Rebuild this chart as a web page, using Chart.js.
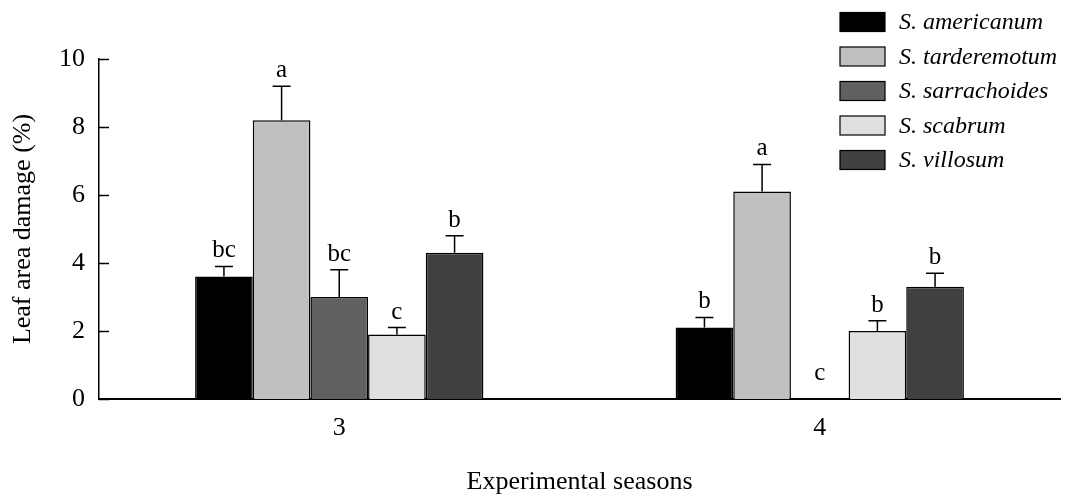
<!DOCTYPE html>
<html lang="en">
<head>
<meta charset="UTF-8">
<title>Leaf area damage</title>
<script src="https://cdn.jsdelivr.net/npm/chart.js"></script>
<style>
    html, body { margin: 0; padding: 0; background: #fff; }
    #wrap { width: 1081px; height: 494px; }
</style>
</head>
<body>
<div id="wrap"><canvas id="myChart" width="1081" height="494"></canvas></div>
<script>
// seasons on the x axis
const seasons = ['3', '4'];

// species (legend order) and bar fills
const species = ['S. americanum', 'S. tarderemotum', 'S. sarrachoides', 'S. scabrum', 'S. villosum'];
const fills = ['#000000', '#c0c0c0', '#606060', '#e0e0e0', '#404040'];

// means per species, [season 3, season 4]
const americanum    = [3.6, 2.1];
const tarderemotum  = [8.2, 6.1];
const sarrachoides  = [3.0, 0];
const scabrum       = [1.9, 2.0];
const villosum      = [4.3, 3.3];

// standard errors
const americanumErr   = [0.3, 0.3];
const tarderemotumErr = [1.0, 0.8];
const sarrachoidesErr = [0.8, 0];
const scabrumErr      = [0.2, 0.3];
const villosumErr     = [0.5, 0.4];

// letters of significance
const americanumSig   = ['bc', 'b'];
const tarderemotumSig = ['a', 'a'];
const sarrachoidesSig = ['bc', 'c'];
const scabrumSig      = ['c', 'b'];
const villosumSig     = ['b', 'b'];

const yTicks = [0, 2, 4, 6, 8, 10];

const means = [americanum, tarderemotum, sarrachoides, scabrum, villosum];
const errs = [americanumErr, tarderemotumErr, sarrachoidesErr, scabrumErr, villosumErr];
const sigs = [americanumSig, tarderemotumSig, sarrachoidesSig, scabrumSig, villosumSig];

const serif = '"Liberation Serif", "DejaVu Serif", serif';

// error bars + letters above each bar
const errorBars = {
    id: 'errorBars',
    afterDatasetsDraw(chart) {
        const ctx = chart.ctx;
        const y = chart.scales.y;
        ctx.save();
        ctx.strokeStyle = '#000';
        ctx.lineWidth = 1.5;
        ctx.fillStyle = '#000';
        ctx.font = '25px ' + serif;
        ctx.textAlign = 'center';
        ctx.textBaseline = 'alphabetic';
        chart.data.datasets.forEach((ds, i) => {
            const meta = chart.getDatasetMeta(i);
            meta.data.forEach((bar, j) => {
                const top = y.getPixelForValue(means[i][j]);
                const hi = y.getPixelForValue(means[i][j] + errs[i][j]);
                if (errs[i][j] > 0) {
                    ctx.beginPath();
                    ctx.moveTo(bar.x, top);
                    ctx.lineTo(bar.x, hi);
                    ctx.moveTo(bar.x - 9, hi);
                    ctx.lineTo(bar.x + 9, hi);
                    ctx.stroke();
                }
                const ty = Math.min(hi - 9, y.getPixelForValue(0) - 19);
                ctx.fillText(sigs[i][j], bar.x, ty);
            });
        });
        ctx.restore();
    }
};

// inward tick marks on the y axis
const yTickMarks = {
    id: 'yTickMarks',
    afterDraw(chart) {
        const ctx = chart.ctx;
        const y = chart.scales.y;
        const left = chart.chartArea.left;
        ctx.save();
        ctx.strokeStyle = '#000';
        ctx.lineWidth = 1.5;
        yTicks.forEach(v => {
            const py = Math.round(y.getPixelForValue(v)) + 0.5;
            ctx.beginPath();
            ctx.moveTo(left, py);
            ctx.lineTo(left + 10, py);
            ctx.stroke();
        });
        ctx.restore();
    }
};

// legend in the top right corner
const boxLegend = {
    id: 'boxLegend',
    afterDraw(chart) {
        const ctx = chart.ctx;
        ctx.save();
        ctx.font = 'italic 24px ' + serif;
        ctx.textBaseline = 'middle';
        ctx.textAlign = 'left';
        species.forEach((name, i) => {
            const cy = 22 + i * 34.5;
            ctx.fillStyle = fills[i];
            ctx.fillRect(840, cy - 9.5, 45, 19);
            ctx.strokeStyle = '#000';
            ctx.lineWidth = 1.2;
            ctx.strokeRect(840, cy - 9.5, 45, 19);
            ctx.fillStyle = '#000';
            ctx.fillText(name, 899, cy + 1);
        });
        ctx.restore();
    }
};

new Chart(document.getElementById('myChart'), {
    type: 'bar',
    data: {
        labels: seasons,
        datasets: species.map((name, i) => ({
            label: name,
            data: means[i],
            backgroundColor: fills[i],
            borderColor: '#000',
            borderWidth: 1.5,
            categoryPercentage: 0.6,
            barPercentage: 1.0
        }))
    },
    options: {
        responsive: false,
        animation: false,
        events: [],
        layout: { padding: { top: 59, right: 21, bottom: 0, left: 0 } },
        plugins: {
            legend: { display: false },
            tooltip: { enabled: false }
        },
        scales: {
            x: {
                grid: { display: false, drawTicks: false },
                border: { display: true, color: '#000', width: 2 },
                ticks: { color: '#000', padding: 14, font: { family: serif, size: 26 } },
                title: {
                    display: true,
                    text: 'Experimental seasons',
                    color: '#000',
                    font: { family: serif, size: 26 },
                    padding: { top: 0, bottom: -4 }
                },
                afterFit(scale) { scale.height = 95; }
            },
            y: {
                min: 0,
                max: 10,
                afterBuildTicks(scale) { scale.ticks = yTicks.map(v => ({ value: v })); },
                grid: { display: false, drawTicks: false },
                border: { display: true, color: '#000', width: 1.5 },
                ticks: { color: '#000', padding: 14, font: { family: serif, size: 26 } },
                title: {
                    display: true,
                    text: 'Leaf area damage (%)',
                    color: '#000',
                    font: { family: serif, size: 26 },
                    padding: { top: 8, bottom: 0 }
                },
                afterFit(scale) { scale.width = 99; }
            }
        }
    },
    plugins: [errorBars, yTickMarks, boxLegend]
});
</script>
</body>
</html>
